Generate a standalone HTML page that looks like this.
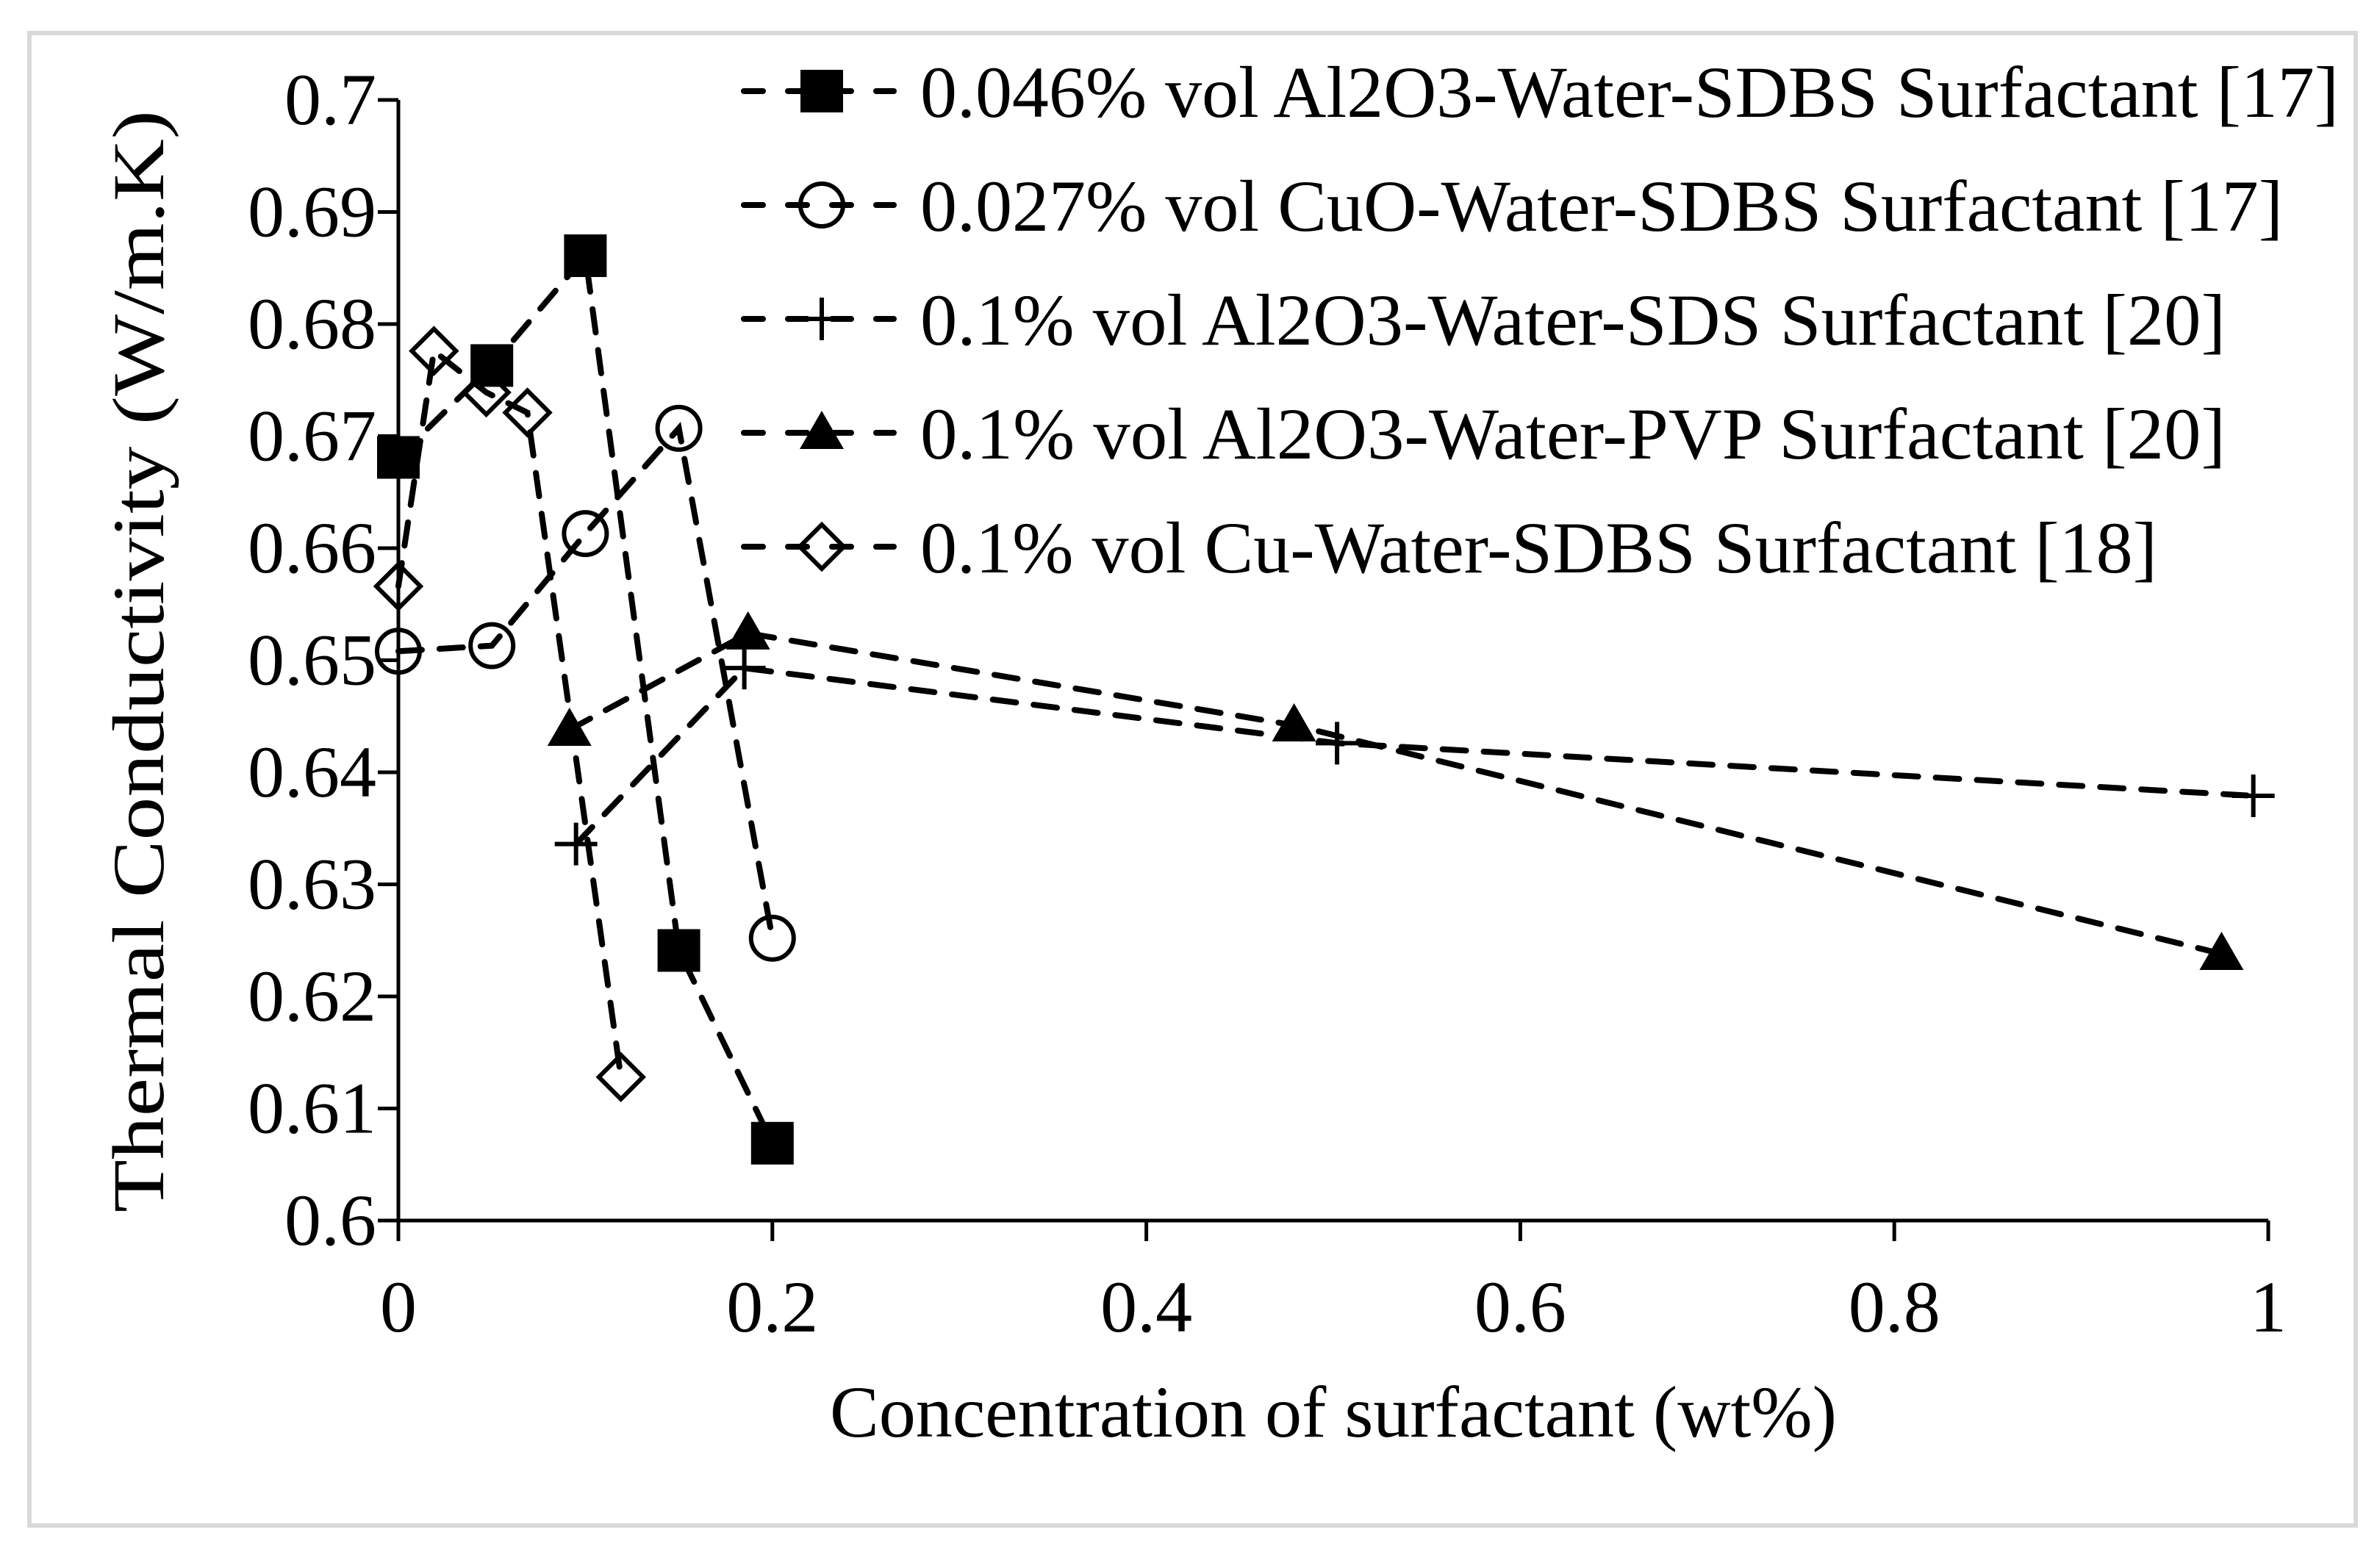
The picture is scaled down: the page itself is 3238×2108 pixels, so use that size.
<!DOCTYPE html>
<html><head><meta charset="utf-8"><style>
html,body{margin:0;padding:0;background:#fff}
svg{display:block}
text{font-family:"Liberation Serif",serif;fill:#000}
</style></head><body>
<svg id="chart" width="3238" height="2108" viewBox="0 0 3238 2108" xmlns="http://www.w3.org/2000/svg">
<rect x="0" y="0" width="3238" height="2108" fill="#fff"/>
<rect x="40" y="45" width="3165" height="2031" fill="none" stroke="#d9d9d9" stroke-width="6"/>
<g id="axes"></g>
<g id="series"></g>
<g id="legend"></g>
<text transform="translate(222,900) rotate(-90)" text-anchor="middle" font-size="100" textLength="1500" lengthAdjust="spacingAndGlyphs">Thermal Conductivity (W/m.K)</text>
<text x="1814" y="1955" text-anchor="middle" font-size="100" textLength="1370" lengthAdjust="spacingAndGlyphs">Concentration of surfactant (wt%)</text>
</svg>
<script>
const xTicks = [0, 0.2, 0.4, 0.6, 0.8, 1];
const xTickLabels = ["0", "0.2", "0.4", "0.6", "0.8", "1"];
const yTicks = [0.6, 0.61, 0.62, 0.63, 0.64, 0.65, 0.66, 0.67, 0.68, 0.69, 0.7];
const yTickLabels = ["0.6", "0.61", "0.62", "0.63", "0.64", "0.65", "0.66", "0.67", "0.68", "0.69", "0.7"];
const seriesNames = ["0.046% vol Al2O3-Water-SDBS Surfactant [17]", "0.027% vol CuO-Water-SDBS Surfactant [17]", "0.1% vol Al2O3-Water-SDS Surfactant [20]", "0.1% vol Al2O3-Water-PVP Surfactant [20]", "0.1% vol Cu-Water-SDBS Surfactant [18]"];
const s1x = [0, 0.05, 0.1, 0.15, 0.2];
const s1y = [0.6681, 0.6763, 0.6861, 0.6241, 0.6069];
const s2x = [0, 0.05, 0.1, 0.15, 0.2];
const s2y = [0.6508, 0.6513, 0.6613, 0.6707, 0.6252];
const s3x = [0.095, 0.185, 0.502, 0.992];
const s3y = [0.6336, 0.6493, 0.6426, 0.6379];
const s4x = [0.0915, 0.187, 0.479, 0.975];
const s4y = [0.6438, 0.6524, 0.6442, 0.6238];
const s5x = [0, 0.019, 0.047, 0.069, 0.119];
const s5y = [0.6566, 0.6776, 0.6739, 0.6721, 0.6128];

const NS = "http://www.w3.org/2000/svg";
const X0 = 542, X1 = 3086, Y0 = 1661, Y1 = 136;
const sx = v => X0 + (v - 0) / (1 - 0) * (X1 - X0);
const sy = v => Y0 - (v - 0.6) / (0.7 - 0.6) * (Y0 - Y1);
function mk(tag, attrs, parent) {
  const e = document.createElementNS(NS, tag);
  for (const k in attrs) e.setAttribute(k, attrs[k]);
  parent.appendChild(e);
  return e;
}
const axes = document.getElementById('axes');
const yAxis = mk('line', {x1: X0, y1: Y1, x2: X0, y2: Y0, stroke: '#000', 'stroke-width': 5}, axes);


const xAxis = mk('line', {x1: X0, y1: Y0, x2: X1, y2: Y0, stroke: '#000', 'stroke-width': 5}, axes);


yTicks.forEach((v, i) => {
  const t = mk('line', {x1: X0 - 28, y1: sy(v), x2: X0, y2: sy(v), stroke: '#000', 'stroke-width': 5}, axes);
  
  
  const l = mk('text', {x: 512, y: sy(v) + 33, 'text-anchor': 'end', 'font-size': 100}, axes);
  l.textContent = yTickLabels[i];
  
  
});
xTicks.forEach((v, i) => {
  const t = mk('line', {x1: sx(v), y1: Y0, x2: sx(v), y2: Y0 + 28, stroke: '#000', 'stroke-width': 5}, axes);
  
  
  const l = mk('text', {x: sx(v), y: 1812, 'text-anchor': 'middle', 'font-size': 100}, axes);
  l.textContent = xTickLabels[i];
  
  
});

function marker(type, x, y, parent) {
  let e;
  if (type === 'square') e = mk('rect', {x: x - 29, y: y - 29, width: 58, height: 58, fill: '#000'}, parent);
  else if (type === 'circle') e = mk('circle', {cx: x, cy: y, r: 29, fill: 'none', stroke: '#000', 'stroke-width': 6}, parent);
  else if (type === 'plus') e = mk('path', {d: `M${x-29},${y}H${x+29}M${x},${y-29}V${y+29}`, stroke: '#000', 'stroke-width': 6, fill: 'none'}, parent);
  else if (type === 'triangle') e = mk('path', {d: `M${x},${y-30}L${x+30},${y+22}L${x-30},${y+22}Z`, fill: '#000'}, parent);
  else e = mk('path', {d: `M${x},${y-30}L${x+30},${y}L${x},${y+30}L${x-30},${y}Z`, fill: 'none', stroke: '#000', 'stroke-width': 6}, parent);
  return e;
}
const seriesG = document.getElementById('series');
const all = [[s1x, s1y, 'square'], [s2x, s2y, 'circle'], [s3x, s3y, 'plus'], [s4x, s4y, 'triangle'], [s5x, s5y, 'diamond']];
all.forEach((s, si) => {
  const g = mk('g', {}, seriesG);
  
  
  const pts = s[0].map((x, i) => sx(x) + ',' + sy(s[1][i])).join(' ');
  const pl = mk('polyline', {points: pts, fill: 'none', stroke: '#000', 'stroke-width': 8, 'stroke-dasharray': '32 24', 'stroke-linecap': 'round'}, g);
  
  
  s[0].forEach((x, i) => {
    const m = marker(s[2], sx(x), sy(s[1][i]), g);
    
    
  });
});
const legend = document.getElementById('legend');
const legW = [1930, 1854, 1776, 1776, 1683];
all.forEach((s, i) => {
  const y = 124 + i * 155;
  const g = mk('g', {}, legend);
  
  
  const ln = mk('line', {x1: 1012, y1: y, x2: 1216, y2: y, stroke: '#000', 'stroke-width': 8, 'stroke-dasharray': '26 34', 'stroke-linecap': 'round'}, g);
  
  
  const m = marker(s[2], 1118, y, g);
  
  
  const t = mk('text', {x: 1252, y: y + 35, 'font-size': 100, textLength: legW[i], lengthAdjust: 'spacingAndGlyphs'}, g);
  t.textContent = seriesNames[i];
  
  
});
</script>
</body></html>
